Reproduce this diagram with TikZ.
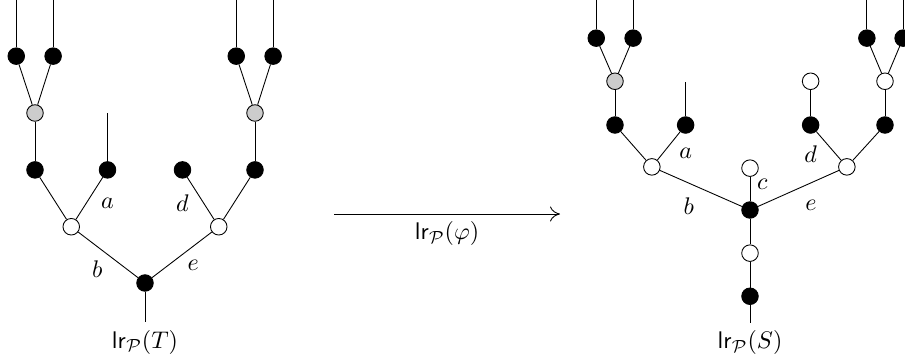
\documentclass[tikz,border=0pt]{standalone}
\usepackage{tikz}
\usetikzlibrary{arrows.meta,positioning}

\begin{document}
\begin{tikzpicture}[
        on grid,
        node distance=0.91cm and 0.58cm,
        font=\fontsize{10.95}{13.6}\selectfont,
        % Estilos dos vértices
        vtx/.style={circle, draw=black, minimum size=0.265cm, inner sep=0pt},
        bvtx/.style={vtx, fill=black},
        wvtx/.style={vtx, fill=white},
        gvtx/.style={vtx, fill=gray!40},
        % Estilo das setas
        maparrow/.style={-{To[length=1.6mm, width=2.4mm]}, thin},
        % Estilo dos rótulos
        lbl/.style={inner sep=1pt}
    ]

    \useasboundingbox (0,0) rectangle (14.48,5.76);

    % Left tree T
    \node[bvtx] (rootT) at (2.32,1.232) {};
    \node[wvtx, above left=0.9cm and 1.18cm of rootT] (wTL) {};
    \node[wvtx, above right=0.9cm and 1.18cm of rootT] (wTR) {};
    \node[bvtx, above left=of wTL] (bTLL) {};
    \node[bvtx, above right=of wTL] (bTLR) {};
    \node[gvtx, above=of bTLL] (gTL) {};
    \node[bvtx, above left=0.91cm and 0.3cm of gTL] (tTLL) {};
    \node[bvtx, above right=0.91cm and 0.29cm of gTL] (tTLR) {};
    \node[bvtx, above left=of wTR] (bTRL) {};
    \node[bvtx, above right=of wTR] (bTRR) {};
    \node[gvtx, above=of bTRR] (gTR) {};
    \node[bvtx, above left=0.91cm and 0.3cm of gTR] (tTRL) {};
    \node[bvtx, above right=0.91cm and 0.29cm of gTR] (tTRR) {};

    \draw (wTL) -- node[lbl, below left=2pt] (lbT) {$b$} (rootT);
    \draw (wTR) -- node[lbl, below right=2pt] (leT) {$e$} (rootT);
    \draw (bTLL) -- (wTL) -- (bTLR);
    \draw (bTRL) -- (wTR) -- (bTRR);
    \draw (tTLL) -- (gTL) -- (tTLR);
    \draw (tTRL) -- (gTR) -- (tTRR);
    \draw (gTL) -- (bTLL);
    \draw (gTR) -- (bTRR);
    \node[lbl, below=0.53cm of bTLR] (laT) {$a$};
    \node[lbl, below=0.53cm of bTRL] (ldT) {$d$};

    % legs of T
    \foreach \n in {tTLL,tTLR,tTRL,tTRR}
        \draw (\n) -- ++(0,0.92);
    \draw (bTLR) -- ++(0,0.91);
    \draw (rootT) -- ++(0,-0.63) node[below] (lrT) {$\mathsf{lr}_{\mathcal{P}}(T)$};

    % Map
    \coordinate (mapL) at (5.344,2.336);
    \coordinate (mapR) at (8.96,2.336);
    \draw[maparrow] (mapL) -- node[below] (lrphi) {$\mathsf{lr}_{\mathcal{P}}(\varphi)$} (mapR);

    % Right tree S
    \node[bvtx] (rootS) at (12.0,2.4) {};
    \node[wvtx, above=0.67cm of rootS] (cS) {};
    \node[wvtx, below=0.69cm of rootS] (wSB) {};
    \node[bvtx, below=0.69cm of wSB] (bSB) {};
    \node[wvtx, above left=0.69cm and 1.57cm of rootS] (wSL) {};
    \node[wvtx, above right=0.69cm and 1.55cm of rootS] (wSR) {};
    \node[bvtx, above left=0.67cm and 0.59cm of wSL] (bSLL) {};
    \node[bvtx, above right=0.67cm and 0.54cm of wSL] (bSLR) {};
    \node[gvtx, above=0.7cm of bSLL] (gSL) {};
    \node[bvtx, above left=0.69cm and 0.3cm of gSL] (tSLL) {};
    \node[bvtx, above right=0.69cm and 0.29cm of gSL] (tSLR) {};
    \node[bvtx, above left=0.67cm and 0.58cm of wSR] (bSRL) {};
    \node[bvtx, above right=0.67cm and 0.61cm of wSR] (bSRR) {};
    \node[wvtx, above=0.7cm of bSRL] (wSRL) {};
    \node[wvtx, above=0.7cm of bSRR] (wSRR) {};
    \node[bvtx, above left=0.69cm and 0.29cm of wSRR] (tSRL) {};
    \node[bvtx, above right=0.69cm and 0.29cm of wSRR] (tSRR) {};

    \draw (wSL) -- node[lbl, below left=3pt and 2pt] (lbS) {$b$} (rootS);
    \draw (wSR) -- node[lbl, below right=4pt and 2pt] (leS) {$e$} (rootS);
    \draw (rootS) -- node[lbl, pos=0.7, right=2pt] (lcS) {$c$} (cS);
    \draw (rootS) -- (wSB) -- (bSB);
    \draw (bSLL) -- (wSL) -- (bSLR);
    \draw (bSRL) -- (wSR) -- (bSRR);
    \draw (bSLL) -- (gSL);
    \draw (tSLL) -- (gSL) -- (tSLR);
    \draw (bSRL) -- (wSRL);
    \draw (bSRR) -- (wSRR);
    \draw (tSRL) -- (wSRR) -- (tSRR);
    \node[lbl, below=0.46cm of bSLR] (laS) {$a$};
    \node[lbl, below=0.46cm of bSRL] (ldS) {$d$};

    % legs of S
    \foreach \n in {tSLL,tSLR,tSRL,tSRR}
        \draw (\n) -- ++(0,0.65);
    \draw (bSLR) -- ++(0,0.69);
    \draw (bSB) -- ++(0,-0.42) node[below] (lrS) {$\mathsf{lr}_{\mathcal{P}}(S)$};

\end{tikzpicture}
\end{document}
